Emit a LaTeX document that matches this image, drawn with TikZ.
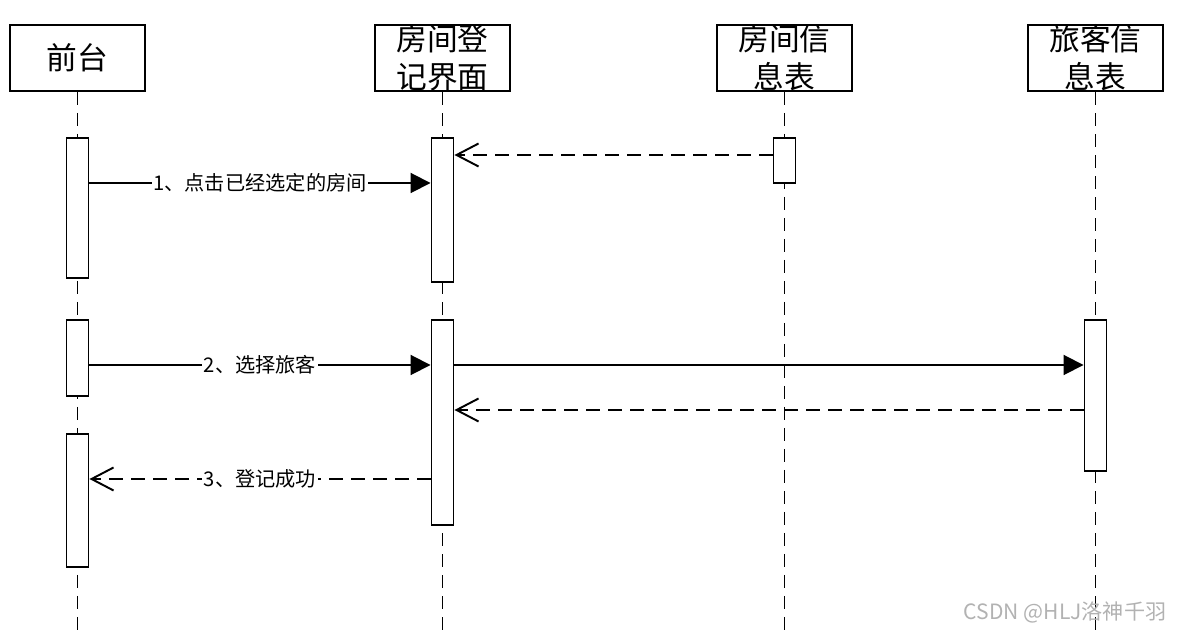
\documentclass[tikz,border=0pt]{standalone}
\usepackage{fontspec}
\setmainfont{Noto Sans CJK SC}
\usetikzlibrary{arrows.meta}

\begin{document}
\begin{tikzpicture}[line width=1.1pt,
		head/.style={draw, minimum width=2.7cm, minimum height=1.32cm, align=center, inner sep=0pt, font=\fontsize{17.5}{21.5}\selectfont},
		bar/.style={draw, fill=white, minimum width=0.44cm, inner sep=0pt},
		life/.style={dash pattern=on 0.26cm off 0.16cm},
		msg/.style={-{Triangle[length=0.4cm, width=0.4cm]}},
		ret/.style={dash pattern=on 0.28cm off 0.16cm, -{Straight Barb[length=0.44cm, width=0.46cm]}},
		lbl/.style={fill=white, inner sep=1pt, font=\fontsize{11.5}{13}\selectfont}]
		\useasboundingbox (0,0) rectangle (23.54,-12.68);
		
		\node[head] (qt) at (1.55,-1.16) {前台};
		\node[head] (dj) at (8.85,-1.16) {房间登\\记界面};
		\node[head] (fj) at (15.69,-1.16) {房间信\\息表};
		\node[head] (lk) at (21.91,-1.16) {旅客信\\息表};
		
		\coordinate (bot) at (0,-12.68);
		\draw[life] (qt.south) -- (qt |- bot);
		\draw[life] (dj.south) -- (dj |- bot);
		\draw[life] (fj.south) -- (fj |- bot);
		\draw[life] (lk.south) -- (lk |- bot);
		
		\node[bar, minimum height=2.8cm] (qa1) at (1.55,-4.16) {};
		\node[bar, minimum height=1.52cm] (qa2) at (1.55,-7.16) {};
		\node[bar, minimum height=2.66cm] (qa3) at (1.55,-10.01) {};
		\node[bar, minimum height=2.88cm] (da1) at (8.85,-4.2) {};
		\node[bar, minimum height=4.1cm] (da2) at (8.85,-8.45) {};
		\node[bar, minimum height=0.9cm] (fa1) at (15.69,-3.21) {};
		\node[bar, minimum height=3.02cm] (la1) at (21.91,-7.91) {};
		
		\coordinate (y0) at (0,-3.1);
		\coordinate (y1) at (0,-3.66);
		\coordinate (y2) at (0,-7.3);
		\coordinate (y3) at (0,-8.2);
		\coordinate (y4) at (0,-9.58);
		
		\draw[ret] (fa1.west |- y0) -- (da1.east |- y0);
		\draw[msg] (qa1.east |- y1) -- node[lbl] {1、点击已经选定的房间} (da1.west |- y1);
		\draw[msg] (qa2.east |- y2) -- node[lbl] {2、选择旅客} (da2.west |- y2);
		\draw[msg] (da2.east |- y2) -- (la1.west |- y2);
		\draw[ret] (la1.west |- y3) -- (da2.east |- y3);
		\draw[ret] (da2.west |- y4) -- node[lbl] {3、登记成功} (qa3.east |- y4);
		
		\node[anchor=east, text=black!30, font=\fontsize{12}{14}\selectfont] (wm) at (23.46,-12.24) {CSDN @HLJ洛神千羽};
\end{tikzpicture}
\end{document}
